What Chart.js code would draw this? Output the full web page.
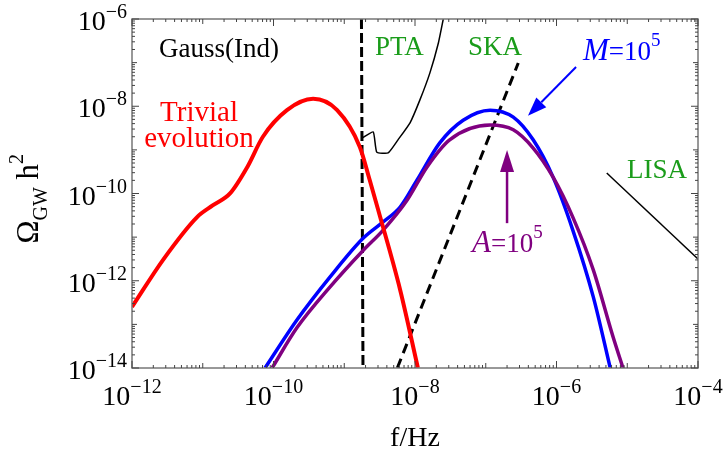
<!DOCTYPE html>
<html>
<head>
<meta charset="utf-8">
<script src="https://cdn.jsdelivr.net/npm/chart.js@4.4.1/dist/chart.umd.min.js"></script>
<style>
  html, body { margin: 0; padding: 0; background: #fff; }
  #wrap { width: 726px; height: 451px; }
</style>
</head>
<body>
<div id="wrap"><canvas id="c" width="726" height="451"></canvas></div>
<script>
// ── values (f in Hz, Omega_GW h^2) ─────────────────────────────────────
const trivialF     = [1.00e-12, 2.75e-12, 8.32e-12, 1.38e-11, 2.45e-11, 4.27e-11, 7.08e-11, 1.55e-10, 3.63e-10, 7.94e-10, 1.66e-9, 2.29e-9, 3.02e-9, 6.17e-9, 1.10e-8];
const trivialOmega = [2.51e-13, 3.02e-12, 2.88e-11, 5.31e-11, 1.02e-10, 4.07e-10, 2.00e-9, 8.13e-9, 1.48e-8, 8.13e-9, 1.17e-9, 2.04e-10, 4.17e-11, 6.17e-13, 1.00e-14];

const mF     = [7.59e-11, 2.14e-10, 6.31e-10, 1.86e-9, 3.55e-9, 6.17e-9, 1.07e-8, 2.24e-8, 4.79e-8, 1.15e-7, 2.45e-7, 4.68e-7, 8.91e-7, 1.70e-6, 3.31e-6, 5.75e-6];
const mOmega = [1.00e-14, 1.26e-13, 1.23e-12, 9.55e-12, 2.24e-11, 4.90e-11, 2.04e-10, 1.45e-9, 4.79e-9, 8.13e-9, 5.62e-9, 1.70e-9, 2.40e-10, 1.45e-11, 4.27e-13, 1.00e-14];

const aF     = [9.55e-11, 2.14e-10, 6.31e-10, 1.86e-9, 3.55e-9, 7.76e-9, 1.48e-8, 3.09e-8, 1.15e-7, 2.45e-7, 4.68e-7, 8.91e-7, 1.70e-6, 3.31e-6, 6.31e-6, 8.71e-6];
const aOmega = [1.00e-14, 8.32e-14, 7.24e-13, 5.01e-12, 1.45e-11, 7.08e-11, 4.07e-10, 1.70e-9, 3.72e-9, 2.88e-9, 1.10e-9, 2.40e-10, 2.88e-11, 1.78e-12, 5.13e-14, 1.00e-14];

const ptaF     = [1.78e-9, 2.57e-9, 2.88e-9, 4.17e-9, 5.75e-9, 8.51e-9, 1.17e-8, 1.62e-8, 2.14e-8, 2.51e-8];
const ptaOmega = [1.86e-9, 2.57e-9, 8.91e-10, 8.51e-10, 1.70e-9, 4.17e-9, 1.38e-8, 5.75e-8, 2.82e-7, 1.00e-6];

const ptaCutF     = [1.75e-9, 1.84e-9];
const ptaCutOmega = [1.00e-6, 1.00e-14];

const skaF     = [5.62e-9, 2.88e-7];
const skaOmega = [1.00e-14, 9.77e-8];

const lisaF     = [5.13e-6, 1.00e-4];
const lisaOmega = [2.95e-10, 3.16e-12];

// axis range and labelled decades
const xRange = [1e-12, 1e-4];
const yRange = [1e-14, 1e-6];
const xTickExps = [-12, -10, -8, -6, -4];
const yTickExps = [-14, -12, -10, -8, -6];

// ── styling ─────────────────────────────────────────────────────────────
const SERIF = '"Liberation Serif", "Times New Roman", serif';
const GREEN = '#1a9c1a';
const RED = '#ff0000', BLUE = '#0000ff', PURPLE = '#800080';

const pts = (xs, ys) => xs.map((x, i) => ({ x, y: ys[i] }));

// annotation anchors in data coordinates
const notes = [
  { segs: [{ t: 'Gauss(Ind)' }], x: 2.41e-12, y: 1.35e-7, color: '#000', align: 'left' },
  { segs: [{ t: 'Trivial', size: 29 }],    x: 8.85e-12, y: 4.59e-9, color: RED, align: 'center' },
  { segs: [{ t: 'evolution', size: 29 }],  x: 8.85e-12, y: 1.16e-9, color: RED, align: 'center' },
  { segs: [{ t: 'PTA' }],        x: 2.72e-9,  y: 1.50e-7, color: GREEN, align: 'left' },
  { segs: [{ t: 'SKA' }],        x: 5.61e-8,  y: 1.50e-7, color: GREEN, align: 'left' },
  { segs: [{ t: 'LISA' }],       x: 9.91e-6,  y: 2.26e-10, color: GREEN, align: 'left' },
  { segs: [{ t: 'M', italic: true, size: 31 }, { t: '=10' }, { t: '5', size: 19, dy: -14 }], x: 2.37e-6, y: 1.15e-7, color: BLUE, align: 'left' },
  { segs: [{ t: 'A', italic: true, size: 31 }, { t: '=10' }, { t: '5', size: 19, dy: -14 }], x: 6.40e-8, y: 4.57e-12, color: PURPLE, align: 'left' },
];

const arrows = [
  { from: [1.89e-6, 7.94e-8], to: [3.95e-7, 6.03e-9], color: BLUE, width: 2, head: 19, half: 7 },
  { from: [2.00e-7, 2.09e-11], to: [2.00e-7, 1.00e-9], color: PURPLE, width: 2.5, head: 22, half: 7 },
];

function drawRich(ctx, segs, x, y, align, baseSize) {
  const fontOf = s => (s.italic ? 'italic ' : '') + (s.size || baseSize) + 'px ' + SERIF;
  let total = 0;
  segs.forEach(s => { ctx.font = fontOf(s); total += ctx.measureText(s.t).width; });
  let cx = align === 'center' ? x - total / 2 : align === 'right' ? x - total : x;
  ctx.textAlign = 'left';
  ctx.textBaseline = 'alphabetic';
  segs.forEach(s => {
    ctx.font = fontOf(s);
    ctx.fillText(s.t, cx, y + (s.dy || 0));
    cx += ctx.measureText(s.t).width;
  });
}

const powSegs = e => [{ t: '10' }, { t: (e < 0 ? '\u2212' : '') + Math.abs(e), size: 20, dy: -12 }];

const decorations = {
  id: 'decorations',
  afterDatasetsDraw(chart) {
    const { ctx, chartArea: a, scales: { x, y } } = chart;
    ctx.save();

    // frame
    ctx.strokeStyle = '#777';
    ctx.lineWidth = 1.5;
    ctx.strokeRect(a.left, a.top, a.right - a.left, a.bottom - a.top);

    // inward ticks on all four sides
    ctx.strokeStyle = '#444';
    ctx.lineWidth = 1;
    const lenFor = (m, d, labelled) => m === 1 ? (labelled.includes(d) ? 7 : 5) : 3;
    const xd0 = Math.log10(xRange[0]), xd1 = Math.log10(xRange[1]);
    for (let d = xd0; d <= xd1; d++) {
      for (let m = 1; m <= 9; m++) {
        if (d === xd1 && m > 1) break;
        const px = x.getPixelForValue(m * Math.pow(10, d));
        const L = lenFor(m, d, xTickExps);
        ctx.beginPath();
        ctx.moveTo(px, a.bottom); ctx.lineTo(px, a.bottom - L);
        ctx.moveTo(px, a.top); ctx.lineTo(px, a.top + L);
        ctx.stroke();
      }
    }
    const yd0 = Math.log10(yRange[0]), yd1 = Math.log10(yRange[1]);
    for (let d = yd0; d <= yd1; d++) {
      for (let m = 1; m <= 9; m++) {
        if (d === yd1 && m > 1) break;
        const py = y.getPixelForValue(m * Math.pow(10, d));
        const L = lenFor(m, d, yTickExps);
        ctx.beginPath();
        ctx.moveTo(a.left, py); ctx.lineTo(a.left + L, py);
        ctx.moveTo(a.right, py); ctx.lineTo(a.right - L, py);
        ctx.stroke();
      }
    }

    // tick labels
    ctx.fillStyle = '#000';
    xTickExps.forEach(e => drawRich(ctx, powSegs(e), x.getPixelForValue(Math.pow(10, e)), a.bottom + 37, 'center', 28));
    yTickExps.forEach(e => drawRich(ctx, powSegs(e), a.left - 5, y.getPixelForValue(Math.pow(10, e)) + 11, 'right', 28));

    // axis titles
    drawRich(ctx, [{ t: 'f/Hz' }], (a.left + a.right) / 2, a.bottom + 78, 'center', 28);
    ctx.save();
    ctx.translate(38, (a.top + a.bottom) / 2 + 50);
    ctx.rotate(-Math.PI / 2);
    drawRich(ctx, [{ t: '\u03A9', size: 31 }, { t: 'GW', size: 20, dy: 9 }, { t: ' h', size: 31 }, { t: '2', size: 20, dy: -15 }], 0, 0, 'left', 31);
    ctx.restore();

    // text annotations
    notes.forEach(n => {
      ctx.fillStyle = n.color;
      drawRich(ctx, n.segs, x.getPixelForValue(n.x), y.getPixelForValue(n.y), n.align, 27);
    });

    // arrows
    arrows.forEach(ar => {
      const x0 = x.getPixelForValue(ar.from[0]), y0 = y.getPixelForValue(ar.from[1]);
      const x1 = x.getPixelForValue(ar.to[0]), y1 = y.getPixelForValue(ar.to[1]);
      const ang = Math.atan2(y1 - y0, x1 - x0);
      const bx = x1 - ar.head * Math.cos(ang), by = y1 - ar.head * Math.sin(ang);
      ctx.strokeStyle = ar.color;
      ctx.fillStyle = ar.color;
      ctx.lineWidth = ar.width;
      ctx.beginPath();
      ctx.moveTo(x0, y0); ctx.lineTo(bx, by);
      ctx.stroke();
      ctx.beginPath();
      ctx.moveTo(x1, y1);
      ctx.lineTo(bx + ar.half * Math.sin(ang), by - ar.half * Math.cos(ang));
      ctx.lineTo(bx - ar.half * Math.sin(ang), by + ar.half * Math.cos(ang));
      ctx.closePath();
      ctx.fill();
    });

    ctx.restore();
  }
};

const line = (label, data, color, width, extra) => ({
  label, data, borderColor: color, borderWidth: width, showLine: true,
  pointRadius: 0, fill: false, clip: 0, cubicInterpolationMode: 'monotone', ...extra
});

new Chart(document.getElementById('c'), {
  type: 'scatter',
  data: {
    datasets: [
      line('Trivial evolution', pts(trivialF, trivialOmega), RED, 4),
      line('A=10^5', pts(aF, aOmega), PURPLE, 3.5),
      line('M=10^5', pts(mF, mOmega), BLUE, 3.5),
      line('PTA', pts(ptaF, ptaOmega), '#000', 1.5, { cubicInterpolationMode: 'default', tension: 0.15 }),
      line('PTA cut', pts(ptaCutF, ptaCutOmega), '#000', 3, { cubicInterpolationMode: 'default', tension: 0, borderDash: [10, 4] }),
      line('SKA', pts(skaF, skaOmega), '#000', 3, { cubicInterpolationMode: 'default', tension: 0, borderDash: [10, 6] }),
      line('LISA', pts(lisaF, lisaOmega), '#000', 1.5, { cubicInterpolationMode: 'default', tension: 0 }),
    ]
  },
  options: {
    responsive: false,
    animation: false,
    devicePixelRatio: 1,
    layout: { padding: { left: 132, right: 28, top: 19, bottom: 83 } },
    plugins: { legend: { display: false }, tooltip: { enabled: false } },
    scales: {
      x: { type: 'logarithmic', min: xRange[0], max: xRange[1], display: false },
      y: { type: 'logarithmic', min: yRange[0], max: yRange[1], display: false }
    }
  },
  plugins: [decorations]
});
</script>
</body>
</html>
